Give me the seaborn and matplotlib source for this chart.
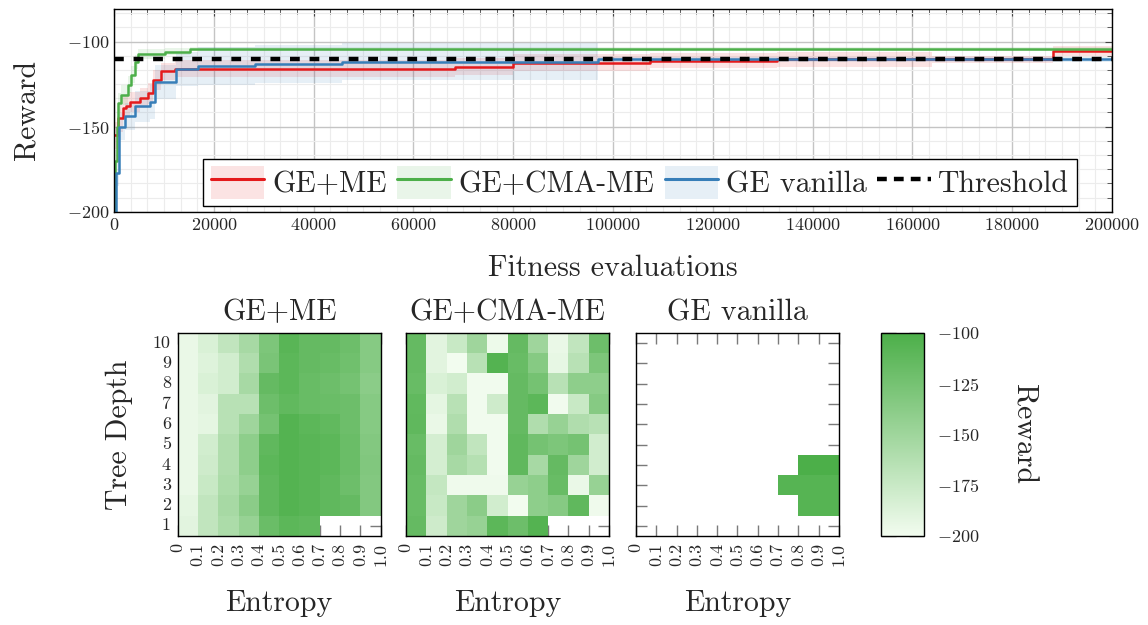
import numpy as np
import pandas as pd
import matplotlib
matplotlib.use("Agg")
import matplotlib.pyplot as plt
import seaborn as sns
from matplotlib.colors import LinearSegmentedColormap
from matplotlib.lines import Line2D
from matplotlib.patches import Patch
from matplotlib.ticker import AutoMinorLocator, MultipleLocator

# ---- datos curva de recompensa (escalonada) ----
methods = ['GE+ME', 'GE+CMA-ME', 'GE vanilla']
colores = ['#e41a1c', '#4daf4a', '#377eb8']

me_x = [0, 900, 1900, 2500, 3200, 5200, 6900, 7900, 9500, 12200, 68300, 79900, 107500, 132800, 164000, 188200, 200000]
me_y = [-155, -145, -139, -138, -135.5, -133, -130.5, -122.5, -117.5, -116, -114.7, -112.4, -111.3, -110.4, -110.4, -105.5, -105.5]
me_sd = [8, 8, 7, 7, 6, 6, 6, 6, 5, 5, 5, 5, 4.5, 4.5, 2, 3, 3]

cma_x = [0, 300, 600, 900, 1500, 2900, 3500, 4200, 4900, 10200, 15200, 200000]
cma_y = [-200, -170, -150, -136, -131.5, -125.5, -119.5, -112, -107.5, -106, -104.4, -104.4]
cma_sd = [6, 6, 6, 6, 6, 5, 5, 4, 3, 2, 1, 1]

van_x = [0, 400, 1000, 2300, 4200, 7200, 8200, 12500, 16900, 28300, 45600, 97000, 200000]
van_y = [-200, -177, -150, -144, -138, -135.5, -123.7, -116.3, -114.3, -113.1, -111.8, -110.4, -110.4]
van_sd = [8, 8, 8, 8, 9, 10, 10, 10, 11, 11, 11, 1.5, 1.5]

threshold = -110

# ---- datos mapas de calor (filas: profundidad 10 -> 1, columnas: entropía 0 -> 1) ----
entropy_labels = ['0', '0.1', '0.2', '0.3', '0.4', '0.5', '0.6', '0.7', '0.8', '0.9', '1.0']
depth_labels = ['10', '9', '8', '7', '6', '5', '4', '3', '2', '1']
nan = np.nan

me_map = [
    [-195, -185, -170, -155, -130, -108, -115, -115, -120, -135],
    [-195, -188, -180, -160, -128, -110, -115, -117, -122, -135],
    [-195, -185, -180, -155, -115, -110, -117, -120, -125, -138],
    [-195, -190, -165, -165, -120, -113, -117, -118, -120, -135],
    [-195, -192, -165, -150, -125, -105, -110, -113, -120, -135],
    [-195, -180, -160, -140, -112, -105, -108, -110, -118, -133],
    [-195, -178, -160, -140, -110, -105, -108, -110, -118, -132],
    [-195, -175, -158, -145, -112, -105, -108, -112, -120, -133],
    [-192, -170, -155, -138, -112, -105, -108, -112, -115, -133],
    [-190, -170, -158, -145, -118, -110, -112, nan, nan, nan],
]

cma_map = [
    [-115, -190, -175, -150, -197, -115, -150, -195, -170, -120],
    [-115, -190, -200, -165, -105, -117, -135, -193, -165, -130],
    [-117, -185, -180, -199, -199, -115, -125, -165, -140, -140],
    [-113, -192, -165, -199, -178, -115, -110, -199, -175, -135],
    [-112, -195, -160, -199, -199, -115, -160, -145, -160, -165],
    [-117, -182, -150, -170, -199, -112, -125, -130, -125, -180],
    [-115, -182, -155, -163, -199, -112, -155, -115, -150, -180],
    [-117, -172, -198, -198, -198, -145, -140, -117, -195, -145],
    [-117, -175, -150, -138, -180, -200, -140, -135, -112, -198],
    [-115, -178, -150, -145, -110, -120, -105, nan, nan, nan],
]

vanilla_map = [
    [nan] * 10,
    [nan] * 10,
    [nan] * 10,
    [nan] * 10,
    [nan] * 10,
    [nan] * 10,
    [nan, nan, nan, nan, nan, nan, nan, nan, -100, -100],
    [nan, nan, nan, nan, nan, nan, nan, -106, -106, -106],
    [nan, nan, nan, nan, nan, nan, nan, nan, -106, -106],
    [nan] * 10,
]

sns.set_style('white')
plt.rcParams['font.family'] = 'serif'
plt.rcParams['font.serif'] = ['cmr10', 'DejaVu Serif']
plt.rcParams['mathtext.fontset'] = 'cm'
plt.rcParams['axes.formatter.use_mathtext'] = True
plt.rcParams['axes.unicode_minus'] = True

BIG = 21.5

fig = plt.figure(figsize=(11.48, 6.25), dpi=100)

# ---------------- grafico superior ----------------
ax = fig.add_axes([0.0993, 0.6613, 0.8693, 0.3238])

frames = []
for m, xs, ys in zip(methods, [me_x, cma_x, van_x], [me_y, cma_y, van_y]):
    frames.append(pd.DataFrame({'evals': xs, 'reward': ys, 'method': m}))
df = pd.concat(frames, ignore_index=True)

for xs, ys, sd, c in zip([me_x, cma_x, van_x], [me_y, cma_y, van_y], [me_sd, cma_sd, van_sd], colores):
    ys = np.array(ys)
    sd = np.array(sd)
    ax.fill_between(xs, ys - sd, ys + sd, step='post', color=c, alpha=0.12, lw=0)

sns.lineplot(data=df, x='evals', y='reward', hue='method', hue_order=methods,
             palette=colores, drawstyle='steps-post', lw=1.8, legend=False,
             estimator=None, ax=ax)
ax.axhline(threshold, color='black', lw=3.2, ls=(0, (2.2, 2.2)), zorder=5)

ax.set_xlim(0, 200000)
ax.set_ylim(-200, -81)
ax.xaxis.set_major_locator(MultipleLocator(20000))
ax.yaxis.set_major_locator(MultipleLocator(50))
ax.xaxis.set_minor_locator(AutoMinorLocator(6))
ax.yaxis.set_minor_locator(AutoMinorLocator(6))
ax.grid(which='major', color='#c4c4c4', lw=1.0)
ax.grid(which='minor', color='#ececec', lw=0.8)
ax.set_axisbelow(True)
ax.tick_params(which='both', direction='in', top=True, right=True, color='#444444', labelsize=13)
ax.tick_params(which='major', length=5)
ax.tick_params(which='minor', length=3.5)
for s in ax.spines.values():
    s.set_color('black')
    s.set_linewidth(1.0)
ax.set_xlabel('Fitness evaluations', fontsize=BIG, labelpad=16)
ax.set_ylabel('Reward', fontsize=BIG, labelpad=18)

handles = []
for c in colores:
    handles.append((Patch(facecolor=c, alpha=0.12, lw=0), Line2D([], [], color=c, lw=2.2)))
handles.append(Line2D([], [], color='black', lw=3.2, ls=(0, (2.2, 1.6))))
leg = ax.legend(handles, methods + ['Threshold'], ncol=4, loc='lower center',
                bbox_to_anchor=(0.527, 0.028), borderaxespad=0, fontsize=BIG,
                frameon=True, fancybox=False, framealpha=1, edgecolor='black',
                handlelength=1.8, handleheight=1.3, handletextpad=0.25,
                columnspacing=0.35, borderpad=0.25)
leg.get_frame().set_linewidth(1.0)

# ---------------- mapas de calor ----------------
verde = LinearSegmentedColormap.from_list('verde', ['#f2fcef', '#4caf49'])
mapas = [me_map, cma_map, vanilla_map]
lefts = [0.1548, 0.3537, 0.554]
cax = fig.add_axes([0.7672, 0.1424, 0.0377, 0.3253])

for i, (mapa, left, titulo) in enumerate(zip(mapas, lefts, methods)):
    hax = fig.add_axes([left, 0.1424, 0.1768, 0.3253])
    sns.heatmap(np.array(mapa, dtype=float), ax=hax, cmap=verde, vmin=-200, vmax=-100,
                cbar=(i == 2), cbar_ax=cax if i == 2 else None)
    hax.set_xticks(np.arange(11))
    hax.set_xticklabels(entropy_labels, rotation=90, fontsize=13)
    hax.set_yticks(np.arange(10) + 0.5)
    hax.set_yticklabels(depth_labels if i == 0 else [], rotation=0, fontsize=13)
    hax.tick_params(which='both', direction='in', top=True, right=True, left=True, bottom=True,
                    color='#7a7a7a', length=8, width=1, pad=5)
    for s in hax.spines.values():
        s.set_visible(True)
        s.set_color('black')
        s.set_linewidth(1.0)
    hax.set_title(titulo, fontsize=BIG, pad=9)
    hax.set_xlabel('Entropy', fontsize=BIG, labelpad=17)
    if i == 0:
        hax.set_ylabel('Tree Depth', fontsize=BIG, labelpad=14)
    ultimo = hax

cb = ultimo.collections[0].colorbar
cb.set_ticks([-200, -175, -150, -125, -100])
cb.outline.set_edgecolor('black')
cb.outline.set_linewidth(1.0)
cax.tick_params(direction='in', left=True, right=True, color='#7a7a7a', length=11, width=1,
                labelsize=13, pad=9)
cb.set_label('Reward', rotation=270, fontsize=BIG, labelpad=42)

plt.savefig('out.png', dpi=100)
plt.close()
